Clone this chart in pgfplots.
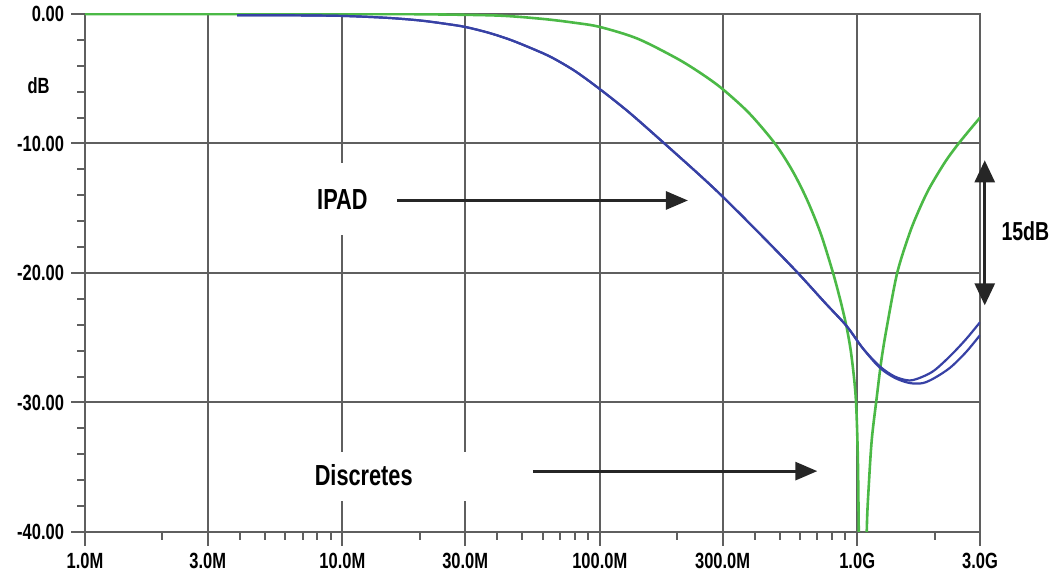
\documentclass[border=0pt]{standalone}
\usepackage{fontspec}
\setmainfont[FakeStretch=0.75]{Liberation Sans}
\usepackage{pgfplots}
\pgfplotsset{compat=1.18}
\usetikzlibrary{arrows.meta}
\definecolor{ipadblue}{RGB}{55,65,165}
\definecolor{discgreen}{RGB}{75,185,70}
\definecolor{gridgray}{RGB}{95,95,95}
\begin{document}
\begin{tikzpicture}[font=\bfseries]
\useasboundingbox (-42.5pt,-22.5pt) rectangle (486pt,266pt);
\begin{axis}[
  scale only axis, width=447.5pt, height=259pt,
  xmode=log, xmin=1e6, xmax=3e9, ymin=-40, ymax=0,
  clip mode=individual,
  xtick={1e6,3e6,1e7,3e7,1e8,3e8,1e9,3e9},
  xticklabels={1.0M,3.0M,10.0M,30.0M,100.0M,300.0M,1.0G,3.0G},
  minor xtick={2e6,4e6,5e6,6e6,7e6,8e6,9e6,2e7,4e7,5e7,6e7,7e7,8e7,9e7,
               2e8,4e8,5e8,6e8,7e8,8e8,9e8,2e9},
  ytick={-40,-30,-20,-10,0},
  yticklabels={-40.00,-30.00,-20.00,-10.00,0.00},
  minor ytick={-38,-36,-34,-32,-28,-26,-24,-22,-18,-16,-14,-12,-8,-6,-4,-2},
  tick align=outside, xtick pos=bottom, ytick pos=left,
  major tick length=7pt, minor tick length=4pt,
  every tick/.style={gridgray, line width=1pt},
  grid=major, major grid style={gridgray, line width=1pt},
  axis line style={gridgray, line width=1pt},
  ticklabel style={font=\fontsize{11}{12}\selectfont\bfseries},
  /pgf/number format/assume math mode=true,
]
% Discretes, below and above the notch
\addplot[discgreen, line width=1.3pt, smooth] coordinates {
  (1e6,0) (1e7,0) (2e7,-0.02) (4e7,-0.12) (6e7,-0.38) (8e7,-0.68) (1e8,-1.0)
  (1.4e8,-1.9) (2e8,-3.45) (2.5e8,-4.65) (3e8,-5.8) (3.8e8,-7.65) (4.79e8,-10)
  (5.6e8,-12.1) (6.37e8,-14.3) (7.2e8,-16.9) (8.03e8,-19.9) (8.6e8,-22.1)
  (9.1e8,-24.2) (9.5e8,-26.4) (9.87e8,-29.6) (1.005e9,-34) (1.014e9,-40)
  (1.025e9,-50)
};
\addplot[discgreen, line width=1.3pt, smooth] coordinates {
  (1.07e9,-50) (1.089e9,-40) (1.11e9,-36.3) (1.14e9,-32.8) (1.191e9,-29.6)
  (1.24e9,-26.8) (1.3e9,-24.3) (1.43e9,-20) (1.6e9,-16.9) (1.75e9,-15.0)
  (1.913e9,-13.4) (2.2e9,-11.4) (2.5e9,-9.9) (3e9,-8)
};
% IPAD (two traces)
\addplot[ipadblue, line width=1.1pt, smooth] coordinates {
  (3.9e6,-0.1) (6e6,-0.1) (1e7,-0.15) (1.5e7,-0.3) (2e7,-0.5) (2.5e7,-0.75)
  (3e7,-1.0) (3.7e7,-1.45) (4.5e7,-2.0) (5.5e7,-2.7) (6.5e7,-3.35) (8e7,-4.4)
  (1e8,-5.8) (1.3e8,-7.6) (1.76e8,-9.9) (2.4e8,-12.3) (3e8,-14.1) (4.2e8,-17.0)
  (5.82e8,-19.9) (7.5e8,-22.3) (9.1e8,-24.1) (1.05e9,-25.8) (1.222e9,-27.2)
  (1.4e9,-28.0) (1.6e9,-28.3) (1.8e9,-28.0) (2e9,-27.5) (2.3e9,-26.4)
  (2.65e9,-25.1) (3e9,-23.8)
};
\addplot[ipadblue, line width=1.1pt, smooth] coordinates {
  (3.9e6,-0.1) (6e6,-0.1) (1e7,-0.15) (1.5e7,-0.3) (2e7,-0.5) (2.5e7,-0.75)
  (3e7,-1.0) (3.7e7,-1.45) (4.5e7,-2.0) (5.5e7,-2.7) (6.5e7,-3.35) (8e7,-4.4)
  (1e8,-5.8) (1.3e8,-7.6) (1.76e8,-9.9) (2.4e8,-12.3) (3e8,-14.1) (4.2e8,-17.0)
  (5.82e8,-19.9) (7.5e8,-22.3) (9.1e8,-24.1) (1.05e9,-25.8) (1.222e9,-27.3)
  (1.4e9,-28.1) (1.6e9,-28.5) (1.8e9,-28.5) (2e9,-28.1) (2.3e9,-27.3)
  (2.65e9,-26.1) (3e9,-24.8)
};
% labels and arrows
\node[fill=white, minimum height=36pt, inner xsep=8pt,
  font=\fontsize{14.5}{16}\selectfont\bfseries] at (axis cs:1e7,-14.3) {IPAD};
\draw[black!85, line width=1.4pt, -{Triangle[width=9pt,length=11pt]}]
  (axis cs:1.63e7,-14.4) -- (axis cs:2.2e8,-14.4);
\fill[white] (axis cs:6.8e6,-33.8) rectangle (axis cs:4.1e7,-37.6);
\node[font=\fontsize{14.5}{16}\selectfont\bfseries] at (axis cs:1.21e7,-35.6) {Discretes};
\draw[black!85, line width=1.4pt, -{Triangle[width=9pt,length=11pt]}]
  (axis cs:5.5e7,-35.3) -- (axis cs:7.0e8,-35.3);
\draw[black!85, line width=1.4pt, {Triangle[width=10pt,length=11pt]}-{Triangle[width=10pt,length=11pt]}]
  (axis cs:3.13e9,-11.3) -- (axis cs:3.13e9,-22.5);
\node[font=\fontsize{13}{14}\selectfont\bfseries] at (axis cs:4.5e9,-16.8) {15dB};
\node[font=\fontsize{11}{12}\selectfont\bfseries] at (axis cs:6.6e5,-5.5) {dB};
\end{axis}
\end{tikzpicture}
\end{document}
